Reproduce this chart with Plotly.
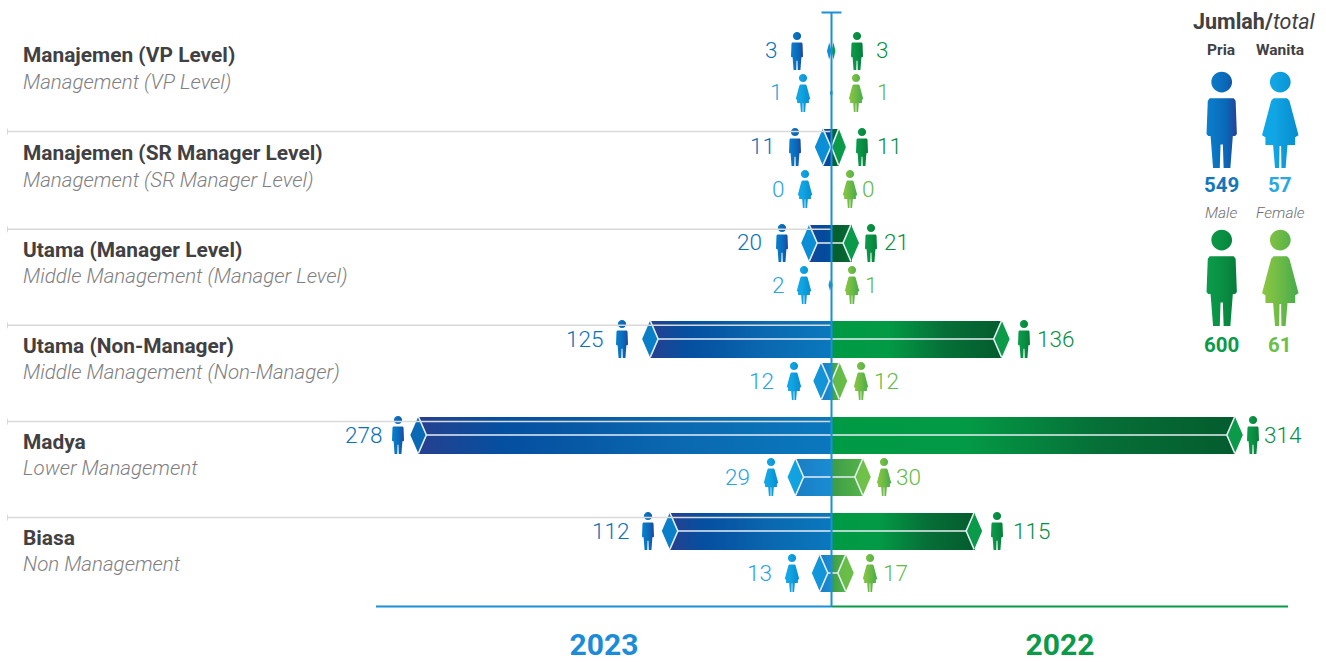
import json
import plotly.graph_objects as go

# ---------- data ----------
levels_id = ["Manajemen (VP Level)", "Manajemen (SR Manager Level)", "Utama (Manager Level)",
             "Utama (Non-Manager)", "Madya", "Biasa"]
levels_en = ["Management (VP Level)", "Management (SR Manager Level)", "Middle Management (Manager Level)",
             "Middle Management (Non-Manager)", "Lower Management", "Non Management"]
male_2023 = [3, 11, 20, 125, 278, 112]
female_2023 = [1, 0, 2, 12, 29, 13]
male_2022 = [3, 11, 21, 136, 314, 115]
female_2022 = [1, 0, 1, 12, 30, 17]
years = ["2023", "2022"]
totals = {"Pria": (549, 600), "Wanita": (57, 61)}

# ---------- layout constants (pixels) ----------
W, H = 1326, 662
CX = 831.5
LEFT_END, RIGHT_END = 376, 1288
LEFT_SCALE, RIGHT_SCALE = 1.515, 1.31
ROW0, LEVEL_PITCH, SUB_GAP = 51, 96, 42
BAR_H = 37

# icon centre, label edge for each (level, sex), hand-placed as in the artwork
icon_l = [[797, 803], [795, 805], [782, 804], [622, 794], [398, 771], [648, 792]]
edge_l = [[778, 783], [776, 785], [763, 785], [604, 775], [383, 751], [630, 773]]
icon_r = [[857, 856], [862, 850], [871, 852], [1024, 861], [1253, 884], [997, 870]]
edge_r = [[876, 877], [877, 862], [884, 865], [1037, 874], [1264, 896], [1013, 883]]
title_y = [55, 153, 250, 346, 442, 538]
sub_y = [82, 180, 276, 372, 468, 564]
rule_y = [131.5, 229.3, 325.3, 421.5, 517.5]

# ---------- colours: sentinels replaced by SVG gradients after the plot is drawn ----------
GRAD = {
    "rgb(1, 1, 10)": ["#27408f", "#054fa0", "#0759a6", "#0a67af", "#0a70b6", "#0a78bd"],   # male 2023 long bar
    "rgb(1, 1, 11)": ["#27408f", "#0a4a9c", "#034a9a", "#05509f"],   # male 2023 short bar
    "rgb(1, 1, 12)": ["#1b7fc6", "#1b83c9", "#1a88cf", "#1b8dd3"],   # female 2023 bar
    "rgb(1, 1, 13)": ["#009a44", "#039a45", "#066f37", "#045c2e"],   # male 2022 long bar
    "rgb(1, 1, 14)": ["#05602f", "#05602f", "#056632", "#077238"],   # male 2022 short bar
    "rgb(1, 1, 15)": ["#3c9b44", "#44a447", "#4dac48", "#55b348"],   # female 2022 bar
    "rgb(1, 1, 16)": ["#0a68b4", "#0a74bf", "#0b82cb", "#0b90d8"],   # male 2023 cap
    "rgb(1, 1, 17)": ["#11a6e2", "#119fe0", "#1296da", "#148fd6"],   # female 2023 cap
    "rgb(1, 1, 18)": ["#0a9a49", "#0a9a49", "#0a9a49", "#0a9a49"],   # male 2022 cap
    "rgb(1, 1, 19)": ["#62b947", "#68bd48", "#6dc049", "#72c24a"],   # female 2022 cap
    "rgb(1, 1, 20)": ["#0a80cc", "#0a74c2", "#0a66b6", "#26409a"],   # man icon blue
    "rgb(1, 1, 21)": ["#0aa8e8", "#12a5e4", "#0b98d9", "#0a8ccd"],   # woman icon blue
    "rgb(1, 1, 22)": ["#0b9c4a", "#0a9446", "#088a40", "#077b3a"],   # man icon green
    "rgb(1, 1, 23)": ["#8cc63f", "#78bf45", "#5fb548", "#46ab4a"],   # woman icon green
}
C_M23, C_F23, C_M22, C_F22 = "#0b72b8", "#29a5e0", "#068f44", "#62bb44"
GREY_D, GREY_L, RULE = "#414042", "#808082", "#d9d9da"
EDGE = "#e6eef4"
FONT = "Roboto"


def row_y(i, sex):
    return ROW0 + i * LEVEL_PITCH + sex * SUB_GAP


def cap_half(v, scale):
    return min(8.0, v * scale / 2)


fig = go.Figure()


def add_side(values_m, values_f, sign, scale, xaxis, bar_cols, cap_cols):
    for sex, vals in enumerate([values_m, values_f]):
        ys = [row_y(i, sex) for i in range(len(vals))]
        bx, by, bc = [], [], []
        cx, cy, wx, wy = [], [], [], []
        for v, y in zip(vals, ys):
            if v == 0:
                continue
            half = cap_half(v, scale)
            tip_px = v * scale
            h = min(BAR_H, 5.7 * v)
            mid = v - half / scale
            inner = v - 2 * half / scale
            # cap diamond
            cx += [sign * v, sign * mid, sign * inner, sign * mid, sign * v, None]
            cy += [y, y - h / 2, y, y + h / 2, y, None]
            if tip_px >= 10:
                bx.append(sign * mid)
                by.append(y)
                if sex == 0:
                    bc.append(bar_cols[0] if tip_px > 60 else bar_cols[1])
                else:
                    bc.append(bar_cols[2])
                wx += [sign * mid, sign * inner, sign * mid, None, sign * inner, 0, None]
                wy += [y - h / 2, y, y + h / 2, None, y, y, None]
        fig.add_trace(go.Bar(x=bx, y=by, orientation="h", width=BAR_H, marker=dict(color=bc, line_width=0),
                             xaxis=xaxis, yaxis="y", hoverinfo="skip", showlegend=False))
        fig.add_trace(go.Scatter(x=cx, y=cy, mode="none", fill="toself", fillcolor=cap_cols[sex],
                                 xaxis=xaxis, yaxis="y", hoverinfo="skip", showlegend=False))
        fig.add_trace(go.Scatter(x=wx, y=wy, mode="lines", line=dict(color=EDGE, width=1.6),
                                 xaxis=xaxis, yaxis="y", hoverinfo="skip", showlegend=False))


add_side(male_2023, female_2023, -1, LEFT_SCALE, "x",
         ["rgb(1, 1, 10)", "rgb(1, 1, 11)", "rgb(1, 1, 12)"], ["rgb(1, 1, 16)", "rgb(1, 1, 17)"])
add_side(male_2022, female_2022, 1, RIGHT_SCALE, "x2",
         ["rgb(1, 1, 13)", "rgb(1, 1, 14)", "rgb(1, 1, 15)"], ["rgb(1, 1, 18)", "rgb(1, 1, 19)"])

# year captions as text marks under the two halves of the baseline
fig.add_trace(go.Scatter(x=[-(CX - 604) / LEFT_SCALE], y=[647], text=[years[0]], mode="text", xaxis="x", yaxis="y",
                         textfont=dict(family=FONT, size=30, color="#1a8cd8", weight=700), cliponaxis=False,
                         hoverinfo="skip", showlegend=False))
fig.add_trace(go.Scatter(x=[(1060 - CX) / RIGHT_SCALE], y=[647], text=[years[1]], mode="text", xaxis="x2", yaxis="y",
                         textfont=dict(family=FONT, size=30, color="#0a9a4a", weight=700), cliponaxis=False,
                         hoverinfo="skip", showlegend=False))


# ---------- pictograms ----------
def poly(pts):
    return "M" + " L".join(f"{x},{y}" for x, y in pts) + " Z "


MAN = [(-0.125, 0.274), (0.125, 0.274), (0.145, 0.30), (0.158, 0.645), (0.14, 0.667), (0.116, 0.667),
       (0.09, 1.0), (0.02, 1.0), (0.012, 0.754), (-0.012, 0.754), (-0.02, 1.0), (-0.09, 1.0),
       (-0.116, 0.667), (-0.14, 0.667), (-0.158, 0.645), (-0.145, 0.30)]
WOMAN = [(-0.07, 0.274), (0.07, 0.274), (0.095, 0.30), (0.19, 0.66), (0.155, 0.68), (0.155, 0.76),
         (0.075, 0.76), (0.055, 1.0), (0.012, 1.0), (0.008, 0.77), (-0.008, 0.77), (-0.012, 1.0),
         (-0.055, 1.0), (-0.075, 0.76), (-0.155, 0.76), (-0.155, 0.68), (-0.19, 0.66), (-0.095, 0.30)]


def person(kind, px, top, height, colour):
    body = MAN if kind == "m" else WOMAN
    pts = [((px + x * height) / W, 1 - (top + y * height) / H) for x, y in body]
    r = 0.108 * height
    k = 0.5523
    hx, hy = px, top + 0.105 * height
    fx = lambda v: v / W
    fy = lambda v: 1 - v / H
    head = (f"M{fx(hx - r)},{fy(hy)} "
            f"C{fx(hx - r)},{fy(hy - k * r)} {fx(hx - k * r)},{fy(hy - r)} {fx(hx)},{fy(hy - r)} "
            f"C{fx(hx + k * r)},{fy(hy - r)} {fx(hx + r)},{fy(hy - k * r)} {fx(hx + r)},{fy(hy)} "
            f"C{fx(hx + r)},{fy(hy + k * r)} {fx(hx + k * r)},{fy(hy + r)} {fx(hx)},{fy(hy + r)} "
            f"C{fx(hx - k * r)},{fy(hy + r)} {fx(hx - r)},{fy(hy + k * r)} {fx(hx - r)},{fy(hy)} Z ")
    fig.add_shape(type="path", path=head + poly(pts), xref="paper", yref="paper",
                  fillcolor=colour, line_width=0, layer="above")


SMALL = 38
for i in range(len(levels_id)):
    person("m", icon_l[i][0], row_y(i, 0) - SMALL / 2, SMALL, "rgb(1, 1, 20)")
    person("w", icon_l[i][1], row_y(i, 1) - SMALL / 2, SMALL, "rgb(1, 1, 21)")
    person("m", icon_r[i][0], row_y(i, 0) - SMALL / 2, SMALL, "rgb(1, 1, 22)")
    person("w", icon_r[i][1], row_y(i, 1) - SMALL / 2, SMALL, "rgb(1, 1, 23)")

person("m", 1221.7, 72, 96, "rgb(1, 1, 20)")
person("w", 1280.3, 72, 96, "rgb(1, 1, 21)")
person("m", 1221.7, 230, 96, "rgb(1, 1, 22)")
person("w", 1280.3, 230, 96, "rgb(1, 1, 23)")

# ---------- rules and axis lines ----------
for y in rule_y:
    fig.add_shape(type="line", x0=7 / W, x1=(CX - 1) / W, y0=1 - y / H, y1=1 - y / H,
                  xref="paper", yref="paper", line=dict(color=RULE, width=1.5), layer="above")
    fig.add_shape(type="line", x0=7.5 / W, x1=7.5 / W, y0=1 - (y - 3) / H, y1=1 - (y + 3) / H,
                  xref="paper", yref="paper", line=dict(color=RULE, width=1), layer="above")
fig.add_shape(type="line", x0=LEFT_END / W, x1=CX / W, y0=1 - 606.5 / H, y1=1 - 606.5 / H,
              xref="paper", yref="paper", line=dict(color="#1a90d6", width=2), layer="above")
fig.add_shape(type="line", x0=CX / W, x1=RIGHT_END / W, y0=1 - 606.5 / H, y1=1 - 606.5 / H,
              xref="paper", yref="paper", line=dict(color="#0a9a4a", width=2), layer="above")
fig.add_shape(type="line", x0=CX / W, x1=CX / W, y0=1 - 12 / H, y1=1 - 607 / H,
              xref="paper", yref="paper", line=dict(color="#1a90d6", width=2), layer="above")
fig.add_shape(type="line", x0=821.5 / W, x1=841.5 / W, y0=1 - 12.5 / H, y1=1 - 12.5 / H,
              xref="paper", yref="paper", line=dict(color="#1a90d6", width=2), layer="above")


# ---------- text ----------
def note(text, px, py, size, colour, anchor="center", weight=400, italic=False):
    fig.add_annotation(text=text, x=px / W, y=1 - py / H, xref="paper", yref="paper", showarrow=False,
                       xanchor=anchor, yanchor="middle", borderpad=0, align=anchor,
                       font=dict(family=FONT, size=size, color=colour, weight=weight,
                                 style="italic" if italic else "normal"))


NUM = 22.5
for i in range(len(levels_id)):
    note(levels_id[i], 22, title_y[i], 20.9, GREY_D, "left", 700)
    note(levels_en[i], 22, sub_y[i], 20.5, GREY_L, "left", 300, True)
    note(str(male_2023[i]), edge_l[i][0], row_y(i, 0) - 0.5, NUM, C_M23, "right", 300)
    note(str(female_2023[i]), edge_l[i][1], row_y(i, 1) - 0.5, NUM, C_F23, "right", 300)
    note(str(male_2022[i]), edge_r[i][0] - 1, row_y(i, 0) - 0.5, NUM, C_M22, "left", 300)
    note(str(female_2022[i]), edge_r[i][1] - 1, row_y(i, 1) - 0.5, NUM, C_F22, "left", 300)

note("<b>Jumlah/</b><i>total</i>", 1254, 21, 21.5, GREY_D)
names = list(totals)
note(names[0], 1221, 50.5, 15.5, GREY_D, weight=700)
note(names[1], 1280, 50.5, 15.5, GREY_D, weight=700)
note(str(totals[names[0]][0]), 1221, 185.5, 20.5, "#1276bd", weight=700)
note(str(totals[names[1]][0]), 1280, 185.5, 20.5, "#2aa7e2", weight=700)
note("Male", 1221, 213, 15.5, "#6d6e71", weight=300, italic=True)
note("Female", 1280, 213, 15.5, "#6d6e71", weight=300, italic=True)
note(str(totals[names[0]][1]), 1221, 344.5, 20.5, "#0a9a4a", weight=700)
note(str(totals[names[1]][1]), 1280, 344.5, 20.5, "#6cc04a", weight=700)

# ---------- axes ----------
hidden = dict(visible=False, fixedrange=True)
fig.update_layout(
    width=W, height=H, margin=dict(l=0, r=0, t=0, b=0), paper_bgcolor="white", plot_bgcolor="rgba(0,0,0,0)",
    showlegend=False, barmode="overlay", bargap=0,
    xaxis=dict(domain=[LEFT_END / W, CX / W], range=[-(CX - LEFT_END) / LEFT_SCALE, 0], anchor="y", **hidden),
    xaxis2=dict(domain=[CX / W, RIGHT_END / W], range=[0, (RIGHT_END - CX) / RIGHT_SCALE], anchor="y", **hidden),
    yaxis=dict(domain=[0, 1], range=[H, 0], **hidden),
)

# ---------- gradients applied to the drawn SVG ----------
js = """
document.body.style.margin = '0';
document.body.style.overflow = 'hidden';
(function () {
  var GRAD = %s;
  var gd = document.querySelector('.plotly-graph-div');
  var NS = 'http://www.w3.org/2000/svg';
  var svg = gd.querySelector('svg.main-svg');
  var defs = svg.querySelector('defs') || svg.insertBefore(document.createElementNS(NS, 'defs'), svg.firstChild);
  var ids = {}, n = 0;
  Object.keys(GRAD).forEach(function (k) {
    var g = document.createElementNS(NS, 'linearGradient');
    var id = 'resk' + (n++);
    g.setAttribute('id', id);
    g.setAttribute('x1', '0'); g.setAttribute('x2', '1');
    g.setAttribute('y1', '0'); g.setAttribute('y2', '0');
    var st = GRAD[k];
    st.forEach(function (c, i) {
      var s = document.createElementNS(NS, 'stop');
      s.setAttribute('offset', i / (st.length - 1));
      s.setAttribute('stop-color', c);
      g.appendChild(s);
    });
    defs.appendChild(g);
    ids[k] = id;
  });
  gd.querySelectorAll('path').forEach(function (p) {
    var f = p.style.fill;
    if (f && ids[f]) { p.style.fill = 'url(#' + ids[f] + ')'; }
  });
})();
""" % json.dumps(GRAD)

fig.write_html("out.html", post_script=js, config={"displayModeBar": False})
